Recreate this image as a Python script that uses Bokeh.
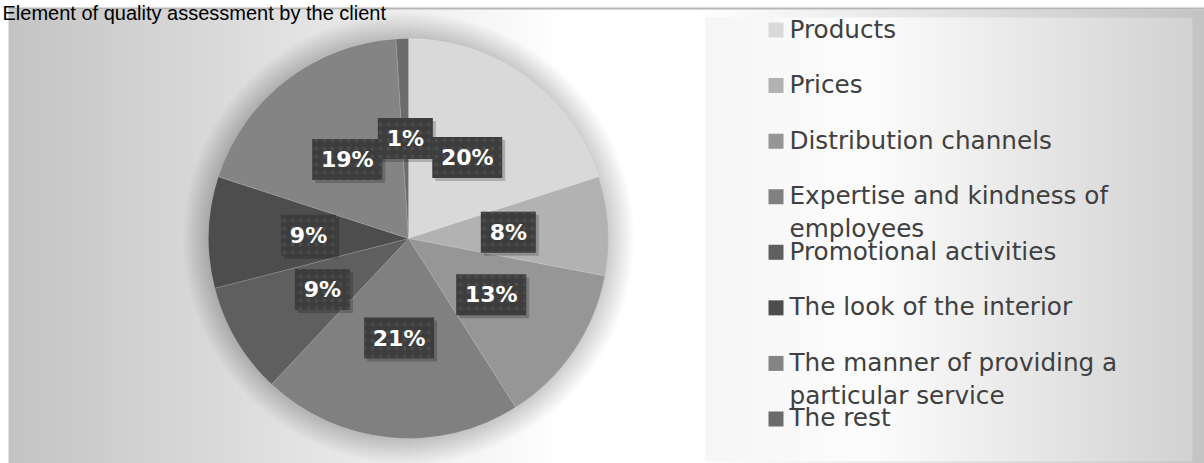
import textwrap
import numpy as np
from bokeh.plotting import figure
from bokeh.models import Range1d, ColumnDataSource
from bokeh.embed import file_html
from bokeh.resources import INLINE
from bokeh.core.properties import value

# ---------------- data ----------------
title_text = "Element of quality assessment by the client"
categories = [
    "Products",
    "Prices",
    "Distribution channels",
    "Expertise and kindness of employees",
    "Promotional activities",
    "The look of the interior",
    "The manner of providing a particular service",
    "The rest",
]
values = [20, 8, 13, 21, 9, 9, 19, 1]
slice_colors = ["#d9d9d9", "#b2b2b2", "#969696", "#808080",
                "#5f5f5f", "#4d4d4d", "#848484", "#6b6b6b"]

# ---------------- layout constants ----------------
W, H = 1204, 463
def Y(py):
    return H - py

cx, cy, R = 408, Y(238), 200

p = figure(width=W, height=H, x_range=Range1d(0, W), y_range=Range1d(0, H),
           output_backend="svg", toolbar_location=None, min_border=0,
           x_axis_type=None, y_axis_type=None,
           background_fill_color="white", border_fill_color="white",
           outline_line_color=None)
p.grid.visible = False

def grad_image(xs, stops_x, stops_v, rows=2):
    g = np.interp(xs, stops_x, stops_v).astype(np.uint8)
    img = np.empty((rows, len(xs)), dtype=np.uint32)
    v = img.view(dtype=np.uint8).reshape((rows, len(xs), 4))
    v[..., 0] = g
    v[..., 1] = g
    v[..., 2] = g
    v[..., 3] = 255
    return img

# outer chart background gradient
xs = np.arange(8, W) + 0.5
p.image_rgba(image=[grad_image(xs, [8, 560, 700, W], [196, 255, 255, 196])],
             x=8, y=0, dw=W - 8, dh=H - 9)
p.segment(x0=[8], y0=[Y(8)], x1=[W], y1=[Y(8)], line_color="#b5b5b5", line_width=2)

# legend box gradient
lx0, lx1, ly0, ly1 = 705, 1192, 17, 461
xs2 = np.arange(lx0, lx1) + 0.5
p.image_rgba(image=[grad_image(xs2, [lx0, 870, lx1], [246, 253, 210])],
             x=lx0, y=Y(ly1), dw=lx1 - lx0, dh=ly1 - ly0)

# pie soft halo
n_halo = 16
p.circle(x=[cx] * n_halo, y=[cy] * n_halo,
         radius=[R + 1.6 * (k + 1) for k in range(n_halo)],
         fill_color="black", fill_alpha=0.01, line_color=None)

# wedges
total = float(sum(values))
fracs = [v / total for v in values]
cum = np.concatenate([[0.0], np.cumsum(fracs)])
start = [np.pi / 2 - 2 * np.pi * cum[i] for i in range(len(values))]
end = [np.pi / 2 - 2 * np.pi * cum[i + 1] for i in range(len(values))]
src = ColumnDataSource(dict(start=start, end=end, color=slice_colors))
p.wedge(x=cx, y=cy, radius=R, start_angle="start", end_angle="end",
        direction="clock", fill_color="color", line_color="white",
        line_alpha=0.25, line_width=0.6, source=src)

# data labels
mid = [np.pi / 2 - 2 * np.pi * (cum[i] + fracs[i] / 2) for i in range(len(values))]
lab_x = [cx + 0.5 * R * np.cos(a) for a in mid]
lab_y = [cy + 0.5 * R * np.sin(a) for a in mid]
lab_txt = [f"{v}%" for v in values]
lab_w = [25 + 15 * len(t) for t in lab_txt]
lsrc = ColumnDataSource(dict(x=lab_x, y=lab_y, xs=[x + 3 for x in lab_x],
                             ys=[y - 3 for y in lab_y], w=lab_w, t=lab_txt))
p.rect(x="xs", y="ys", width="w", height=41, width_units="screen",
       height_units="screen", fill_color="black", fill_alpha=0.2,
       line_color=None, source=lsrc)
p.rect(x="x", y="y", width="w", height=41, width_units="screen",
       height_units="screen", fill_color="#3d3d3d", line_color=None,
       hatch_pattern="dot", hatch_color="#4b4b4b", hatch_scale=8,
       hatch_weight=1.0, source=lsrc)
p.text(x="x", y="y", text="t", text_align="center", text_baseline="middle",
       text_color="white", text_font=value("DejaVu Sans"),
       text_font_style="bold", text_font_size="22px", source=lsrc)

# legend
step = 55.57
sq_x, sq_y, tx_x, tx_y, tx = [], [], [], [], []
for i, name in enumerate(categories):
    ycen = 29.5 + i * step
    sq_x.append(775.5)
    sq_y.append(Y(ycen))
    for j, line in enumerate(textwrap.wrap(name, 25)):
        tx_x.append(789)
        tx_y.append(Y(ycen - 1 + 33 * j))
        tx.append(line)
p.rect(x=sq_x, y=sq_y, width=15, height=15, fill_color=slice_colors,
       line_color=None)
p.text(x=tx_x, y=tx_y, text=tx, text_align="left", text_baseline="middle",
       text_color="#404040", text_font=value("DejaVu Sans"),
       text_font_size="24.7px")

# title
p.text(x=[2], y=[Y(1)], text=[title_text], text_align="left",
       text_baseline="top", text_color="black",
       text_font=value("Liberation Sans"), text_font_size="20px")

open("out.html", "w").write(file_html(p, INLINE))
